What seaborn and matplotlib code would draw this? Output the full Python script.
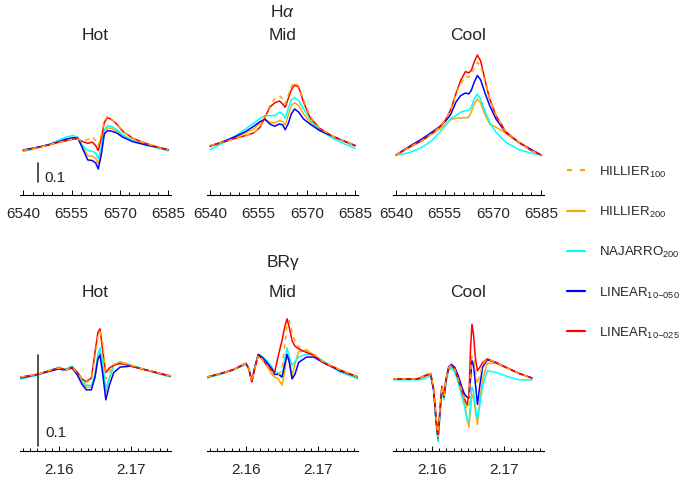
import matplotlib
matplotlib.use("Agg")
import matplotlib.pyplot as plt
from matplotlib.lines import Line2D
from matplotlib.ticker import FixedLocator, MultipleLocator
import pandas as pd
import seaborn as sns

# ---------------------------------------------------------------- models
MODELS = ["HILLIER100", "HILLIER200", "NAJARRO200", "LINEAR10-050", "LINEAR10-025"]
LABELS = [r"HILLIER$_{\mathregular{100}}$",
          r"HILLIER$_{\mathregular{200}}$",
          r"NAJARRO$_{\mathregular{200}}$",
          r"LINEAR$_{\mathregular{10{-}050}}$",
          r"LINEAR$_{\mathregular{10{-}025}}$"]
COLORS = {"HILLIER100": "#FFA500", "HILLIER200": "#FFA500", "NAJARRO200": "#00FFFF",
          "LINEAR10-050": "#0000FF", "LINEAR10-025": "#FF0000"}
DASHES = {"HILLIER100": (3, 3), "HILLIER200": "", "NAJARRO200": "",
          "LINEAR10-050": "", "LINEAR10-025": ""}
DRAW_ORDER = ["HILLIER200", "NAJARRO200", "LINEAR10-050", "LINEAR10-025", "HILLIER100"]
CLASSES = ["Hot", "Mid", "Cool"]

# ---------------------------------------------------------------- H alpha (Angstrom, normalised flux)
HA_WL = [6540, 6544, 6548, 6551, 6553.5, 6555.5, 6557, 6558.5, 6560, 6561.5, 6562.5,
         6563.3, 6564.2, 6565.2, 6566.2, 6567.5, 6569, 6571, 6574, 6578, 6582, 6585]
HA_TICKS = [6540, 6555, 6570, 6585]

HA_HOT_H100 = [1.023, 1.037, 1.053, 1.067, 1.075, 1.084, 1.084, 1.070, 1.081, 1.096, 1.075,
               1.049, 1.102, 1.181, 1.204, 1.186, 1.163, 1.123, 1.088, 1.061, 1.040, 1.026]
HA_HOT_H200 = [1.023, 1.037, 1.053, 1.067, 1.079, 1.086, 1.086, 1.040, 0.996, 0.993, 0.982,
               0.953, 1.014, 1.128, 1.142, 1.140, 1.126, 1.102, 1.075, 1.056, 1.039, 1.026]
HA_HOT_N200 = [1.018, 1.035, 1.056, 1.077, 1.095, 1.102, 1.093, 1.049, 1.023, 1.018, 1.011,
               0.979, 1.040, 1.133, 1.154, 1.151, 1.133, 1.105, 1.075, 1.053, 1.035, 1.021]
HA_HOT_L050 = [1.026, 1.039, 1.054, 1.070, 1.084, 1.091, 1.088, 1.032, 0.974, 0.970, 0.958,
               0.926, 0.996, 1.111, 1.128, 1.125, 1.116, 1.093, 1.070, 1.053, 1.039, 1.028]
HA_HOT_L025 = [1.023, 1.037, 1.053, 1.067, 1.075, 1.084, 1.084, 1.070, 1.061, 1.067, 1.049,
               1.023, 1.084, 1.172, 1.196, 1.186, 1.163, 1.123, 1.088, 1.061, 1.040, 1.026]

HA_MID_H100 = [1.049, 1.067, 1.088, 1.102, 1.116, 1.146, 1.198, 1.260, 1.295, 1.312, 1.295,
               1.268, 1.312, 1.361, 1.382, 1.361, 1.286, 1.204, 1.140, 1.098, 1.070, 1.049]
HA_MID_H200 = [1.046, 1.067, 1.093, 1.116, 1.137, 1.168, 1.186, 1.172, 1.168, 1.181, 1.175,
               1.158, 1.207, 1.260, 1.274, 1.260, 1.216, 1.175, 1.133, 1.098, 1.070, 1.049]
HA_MID_N200 = [1.028, 1.063, 1.102, 1.137, 1.167, 1.193, 1.207, 1.207, 1.207, 1.225, 1.216,
               1.193, 1.242, 1.289, 1.302, 1.286, 1.242, 1.189, 1.132, 1.088, 1.056, 1.035]
HA_MID_L050 = [1.046, 1.070, 1.098, 1.123, 1.151, 1.175, 1.189, 1.163, 1.151, 1.163, 1.158,
               1.133, 1.163, 1.216, 1.242, 1.225, 1.189, 1.163, 1.128, 1.098, 1.070, 1.049]
HA_MID_L025 = [1.049, 1.067, 1.088, 1.102, 1.116, 1.146, 1.198, 1.251, 1.274, 1.284, 1.268,
               1.251, 1.295, 1.344, 1.368, 1.356, 1.277, 1.198, 1.140, 1.098, 1.070, 1.049]

HA_COOL_H100 = [1.000, 1.040, 1.075, 1.111, 1.146, 1.189, 1.242, 1.321, 1.374, 1.414, 1.409,
                1.421, 1.461, 1.488, 1.470, 1.391, 1.295, 1.207, 1.123, 1.067, 1.023, 1.000]
HA_COOL_H200 = [1.000, 1.040, 1.075, 1.111, 1.137, 1.163, 1.186, 1.193, 1.195, 1.195, 1.198,
                1.225, 1.268, 1.295, 1.274, 1.216, 1.163, 1.146, 1.116, 1.067, 1.023, 1.000]
HA_COOL_N200 = [1.000, 1.011, 1.040, 1.075, 1.119, 1.158, 1.193, 1.207, 1.225, 1.233, 1.233,
                1.251, 1.295, 1.321, 1.295, 1.233, 1.172, 1.119, 1.067, 1.028, 1.009, 1.000]
HA_COOL_L050 = [1.000, 1.044, 1.084, 1.119, 1.149, 1.181, 1.216, 1.277, 1.312, 1.326, 1.321,
                1.339, 1.382, 1.418, 1.396, 1.330, 1.260, 1.189, 1.119, 1.067, 1.028, 1.000]
HA_COOL_L025 = [1.000, 1.040, 1.075, 1.111, 1.146, 1.189, 1.242, 1.321, 1.391, 1.439, 1.432,
                1.444, 1.488, 1.526, 1.496, 1.400, 1.295, 1.207, 1.123, 1.067, 1.023, 1.000]

# ---------------------------------------------------------------- Br gamma (micron, normalised flux)
BRG_TICKS = [2.16, 2.17]

BRG_HOT_WL = [2.1547, 2.1570, 2.1590, 2.1600, 2.1605, 2.1610, 2.1618, 2.1625, 2.1632, 2.1638,
              2.1645, 2.1650, 2.1654, 2.1657, 2.1661, 2.1665, 2.1670, 2.1676, 2.1685, 2.1700,
              2.1720, 2.1740, 2.1756]
BRG_HOT_H100 = [1.001, 1.004, 1.009, 1.011, 1.010, 1.009, 1.012, 1.006, 0.999, 0.995, 0.999,
                1.023, 1.045, 1.051, 1.037, 0.999, 1.008, 1.015, 1.017, 1.014, 1.009, 1.005, 1.002]
BRG_HOT_H200 = [1.001, 1.004, 1.008, 1.011, 1.010, 1.009, 1.012, 1.005, 0.995, 0.990, 0.990,
                1.001, 1.019, 1.030, 1.008, 0.984, 0.999, 1.014, 1.018, 1.014, 1.009, 1.005, 1.002]
BRG_HOT_N200 = [0.999, 1.003, 1.009, 1.012, 1.010, 1.010, 1.013, 1.007, 0.997, 0.992, 0.992,
                1.004, 1.026, 1.033, 1.015, 0.987, 1.001, 1.014, 1.016, 1.014, 1.009, 1.004, 1.001]
BRG_HOT_L050 = [1.000, 1.004, 1.008, 1.010, 1.009, 1.009, 1.011, 1.004, 0.993, 0.987, 0.987,
                1.001, 1.021, 1.025, 1.003, 0.976, 0.992, 1.006, 1.012, 1.013, 1.009, 1.005, 1.002]
BRG_HOT_L025 = [1.001, 1.004, 1.009, 1.011, 1.010, 1.009, 1.012, 1.007, 0.999, 0.996, 1.000,
                1.028, 1.050, 1.054, 1.028, 1.006, 1.011, 1.014, 1.016, 1.013, 1.009, 1.005, 1.002]

BRG_MID_WL = [2.1546, 2.1565, 2.1582, 2.1592, 2.1600, 2.1604, 2.1608, 2.1612, 2.1617, 2.1622,
              2.1628, 2.1636, 2.1640, 2.1645, 2.1650, 2.1654, 2.1657, 2.1660, 2.1664, 2.1668,
              2.1673, 2.1684, 2.1694, 2.1707, 2.1730, 2.1756]
BRG_MID_H100 = [1.001, 1.005, 1.009, 1.013, 1.016, 1.010, 0.996, 1.010, 1.025, 1.021, 1.015,
                1.005, 1.001, 1.003, 1.010, 1.037, 1.059, 1.063, 1.051, 1.040, 1.034, 1.031,
                1.026, 1.018, 1.009, 1.001]
BRG_MID_H200 = [1.001, 1.005, 1.009, 1.013, 1.016, 1.010, 0.996, 1.010, 1.025, 1.022, 1.015,
                1.004, 1.001, 0.999, 0.992, 1.008, 1.025, 1.021, 1.002, 1.015, 1.029, 1.030,
                1.026, 1.018, 1.009, 1.001]
BRG_MID_N200 = [1.000, 1.004, 1.009, 1.012, 1.015, 1.010, 0.998, 1.012, 1.026, 1.024, 1.020,
                1.012, 1.007, 1.005, 1.002, 1.021, 1.033, 1.024, 1.014, 1.018, 1.023, 1.026,
                1.025, 1.019, 1.007, 0.999]
BRG_MID_L050 = [1.001, 1.005, 1.009, 1.013, 1.016, 1.010, 0.996, 1.011, 1.026, 1.023, 1.018,
                1.010, 1.004, 1.004, 1.001, 1.015, 1.026, 1.018, 0.999, 1.004, 1.017, 1.023,
                1.023, 1.017, 1.008, 1.001]
BRG_MID_L025 = [1.001, 1.005, 1.009, 1.013, 1.016, 1.010, 0.996, 1.010, 1.025, 1.021, 1.015,
                1.008, 1.007, 1.025, 1.041, 1.057, 1.065, 1.056, 1.041, 1.035, 1.032, 1.028,
                1.025, 1.017, 1.009, 1.001]

BRG_COOL_WL = [2.15453, 2.15623, 2.15802, 2.15885, 2.15948, 2.15982, 2.16023, 2.16058, 2.16083,
               2.16111, 2.16138, 2.16166, 2.16196, 2.16231, 2.16268, 2.16314, 2.16362, 2.16410,
               2.16452, 2.16486, 2.16514, 2.16535, 2.16555, 2.16576, 2.16604, 2.16631, 2.16666,
               2.16704, 2.16769, 2.16890, 2.17073, 2.17211, 2.17387]
BRG_COOL_H100 = [0.999, 0.999, 0.999, 1.002, 1.004, 1.005, 0.988, 0.955, 0.935, 0.966, 0.991,
                 0.980, 0.999, 1.011, 1.014, 1.010, 0.999, 0.987, 0.977, 0.966, 0.971, 1.004,
                 1.024, 1.023, 1.008, 0.993, 1.004, 1.015, 1.021, 1.017, 1.010, 1.005, 1.000]
BRG_COOL_H200 = [0.999, 0.999, 0.999, 1.001, 1.003, 1.003, 0.987, 0.951, 0.932, 0.960, 0.989,
                 0.978, 0.998, 1.010, 1.013, 1.009, 0.998, 0.984, 0.971, 0.955, 0.946, 0.966,
                 0.982, 0.979, 0.963, 0.949, 0.977, 0.999, 1.016, 1.016, 1.010, 1.005, 1.000]
BRG_COOL_N200 = [0.998, 0.998, 0.998, 0.999, 1.001, 1.002, 0.986, 0.949, 0.930, 0.957, 0.988,
                 0.976, 0.996, 1.008, 1.011, 1.007, 0.996, 0.981, 0.969, 0.955, 0.952, 0.971,
                 0.990, 0.986, 0.968, 0.955, 0.971, 0.992, 1.008, 1.006, 1.001, 0.998, 0.998]
BRG_COOL_L050 = [0.999, 0.999, 0.999, 1.002, 1.004, 1.004, 0.986, 0.952, 0.934, 0.964, 0.990,
                 0.979, 0.999, 1.012, 1.015, 1.012, 1.003, 0.991, 0.982, 0.979, 0.978, 0.999,
                 1.019, 1.015, 0.993, 0.971, 0.993, 1.012, 1.020, 1.017, 1.010, 1.005, 1.000]
BRG_COOL_L025 = [0.999, 0.999, 0.999, 1.002, 1.004, 1.005, 0.988, 0.955, 0.937, 0.966, 0.991,
                 0.980, 0.999, 1.011, 1.014, 1.010, 0.999, 0.987, 0.977, 0.970, 0.982, 1.032,
                 1.059, 1.048, 1.021, 1.008, 1.012, 1.017, 1.021, 1.017, 1.010, 1.005, 1.000]

SCALE_BAR = 0.1

# ---------------------------------------------------------------- style
sns.set_style("white")
plt.rcParams["font.family"] = ["Liberation Sans", "DejaVu Sans"]
plt.rcParams["mathtext.fontset"] = "custom"
plt.rcParams["mathtext.rm"] = "Liberation Sans"
plt.rcParams["mathtext.it"] = "Liberation Sans:italic"
plt.rcParams["mathtext.bf"] = "Liberation Sans:bold"

W, H = 682, 481
fig = plt.figure(figsize=(W / 100, H / 100), dpi=100)


def frame(wl, series):
    rows = []
    for model, flux in zip(MODELS, series):
        for w, f in zip(wl, flux):
            rows.append((model, w, f))
    return pd.DataFrame(rows, columns=["model", "wavelength", "flux"])


top_panels = [
    (HA_WL, [HA_HOT_H100, HA_HOT_H200, HA_HOT_N200, HA_HOT_L050, HA_HOT_L025]),
    (HA_WL, [HA_MID_H100, HA_MID_H200, HA_MID_N200, HA_MID_L050, HA_MID_L025]),
    (HA_WL, [HA_COOL_H100, HA_COOL_H200, HA_COOL_N200, HA_COOL_L050, HA_COOL_L025]),
]
bottom_panels = [
    (BRG_HOT_WL, [BRG_HOT_H100, BRG_HOT_H200, BRG_HOT_N200, BRG_HOT_L050, BRG_HOT_L025]),
    (BRG_MID_WL, [BRG_MID_H100, BRG_MID_H200, BRG_MID_N200, BRG_MID_L050, BRG_MID_L025]),
    (BRG_COOL_WL, [BRG_COOL_H100, BRG_COOL_H200, BRG_COOL_N200, BRG_COOL_L050, BRG_COOL_L025]),
]

col_left = [20, 207, 393]
col_width = 151
rows_cfg = [
    # (axis-line y px, top y px, xlim, ylim, major ticks, minor step, panels)
    (196, 45, (6539.0, 6585.9), (0.789, 1.584), HA_TICKS, 3, top_panels),
    (452, 310, (2.15458, 2.17556), (0.9198, 1.0758), BRG_TICKS, 0.001, bottom_panels),
]

axes = {}
for r, (ybot, ytop, xlim, ylim, ticks, minor, panels) in enumerate(rows_cfg):
    for c, (wl, series) in enumerate(panels):
        ax = fig.add_axes([col_left[c] / W, 1 - ybot / H, col_width / W, (ybot - ytop) / H])
        df = frame(wl, series)
        sns.lineplot(data=df, x="wavelength", y="flux", hue="model", style="model",
                     hue_order=DRAW_ORDER, style_order=DRAW_ORDER,
                     palette=COLORS, dashes=DASHES, sort=False, estimator=None,
                     linewidth=1.1, legend=False, ax=ax)
        ax.set_xlim(*xlim)
        ax.set_ylim(*ylim)
        ax.set_xlabel("")
        ax.set_ylabel("")
        ax.set_yticks([])
        for side in ("top", "left", "right"):
            ax.spines[side].set_visible(False)
        ax.spines["bottom"].set_color("black")
        ax.spines["bottom"].set_linewidth(0.8)
        ax.xaxis.set_major_locator(FixedLocator(ticks))
        ax.xaxis.set_minor_locator(MultipleLocator(minor))
        ax.set_xticklabels([f"{t:g}" for t in ticks])
        ax.tick_params(axis="x", which="both", direction="in", bottom=True, top=False,
                       color="black", width=0.7, labelsize=11, pad=8)
        ax.tick_params(axis="x", which="major", length=3.5)
        ax.tick_params(axis="x", which="minor", length=2)
        ax.patch.set_alpha(0)
        axes[(r, c)] = ax

# flux scale bars
ax = axes[(0, 0)]
ax.plot([6544.7, 6544.7], [0.86, 0.86 + SCALE_BAR], color="#333333", lw=1.2)
ax.text(6546.6, 0.886, f"{SCALE_BAR:g}", fontsize=11, va="center", ha="left")
ax = axes[(1, 0)]
ax.plot([2.15708, 2.15708], [0.925, 0.925 + SCALE_BAR], color="#333333", lw=1.2)
ax.text(2.15806, 0.9407, f"{SCALE_BAR:g}", fontsize=11, va="center", ha="left")

# titles
centres = [(l + col_width / 2) / W for l in col_left]
fig.text(centres[1], 1 - 12 / H, r"H$\alpha$", ha="center", va="center", fontsize=12.5)
fig.text(centres[1], 1 - 263 / H, "BRγ", ha="center", va="center", fontsize=12.5)
for cx, name in zip(centres, CLASSES):
    fig.text(cx, 1 - 35 / H, name, ha="center", va="center", fontsize=12.5)
    fig.text(cx, 1 - 293 / H, name, ha="center", va="center", fontsize=12.5)

# legend
handles = [Line2D([], [], color=COLORS[m], lw=1.6,
                  linestyle=(0, (2.3, 3.6)) if DASHES[m] else "-") for m in MODELS]
fig.legend(handles, LABELS, loc="upper left", bbox_to_anchor=(567 / W, 1 - 165 / H),
           frameon=False, fontsize=9.5, handlelength=1.35, handletextpad=1.1,
           labelspacing=1.9, borderpad=0, borderaxespad=0)

fig.savefig("out.png", dpi=100)
